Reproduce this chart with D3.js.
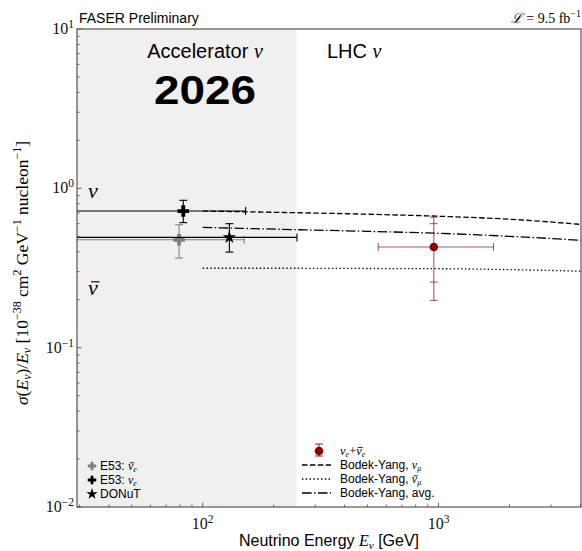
<!DOCTYPE html>
<html>
<head>
<meta charset="utf-8">
<script src="https://cdn.jsdelivr.net/npm/d3@7"></script>
<style>
  html, body { margin: 0; padding: 0; background: #fff; }
  svg { display: block; }
  .serif { font-family: "Liberation Serif", "DejaVu Serif", serif; }
  .sans { font-family: "Liberation Sans", "DejaVu Sans", sans-serif; }
</style>
</head>
<body>
<svg id="chart" width="582" height="551"></svg>
<script>
// Axis extents and tick labels
const xDomain = [29.3, 4020];
const yDomain = [0.01, 10];
const xTickValues = [100, 1000];
const xTickExps = ["2", "3"];
const yTickValues = [0.01, 0.1, 1, 10];
const yTickExps = ["\u22122", "\u22121", "0", "1"];
const acceleratorBoundary = 250;

// Bodek-Yang predictions (energy in GeV, sigma/E)
const byEnergy = [100, 250, 500, 1000, 2000, 4020];
const byNu = [0.720, 0.703, 0.688, 0.668, 0.640, 0.594];
const byNuBar = [0.315, 0.315, 0.314, 0.313, 0.309, 0.302];
const byAvg = [0.569, 0.550, 0.537, 0.522, 0.500, 0.472];

// Accelerator measurements: [E, Elow, Ehigh, value, low, high]
const e53NuBar = [79.4, 20, 150, 0.476, 0.365, 0.591];
const e53Nu = [82.7, 20, 152, 0.720, 0.609, 0.841];
const donut = [129.7, 20, 251, 0.492, 0.398, 0.600];

// FASER electron neutrino measurement
const faserE = [955, 555, 1711];
const faserValue = 0.428;
const faserStat = [0.258, 0.600];
const faserTotal = [0.198, 0.660];

const svg = d3.select("#chart");
const L = 77, R = 581, T = 29, B = 507;

const x = d3.scaleLog().domain(xDomain).range([L, R]);
const y = d3.scaleLog().domain(yDomain).range([B, T]);

svg.append("defs").append("clipPath").attr("id", "plotclip")
  .append("rect").attr("x", L).attr("y", T).attr("width", R - L).attr("height", B - T);

// Shaded accelerator region
svg.append("rect")
  .attr("x", L).attr("y", T)
  .attr("width", x(acceleratorBoundary) - L).attr("height", B - T)
  .attr("fill", "#f0f0f0");

const plot = svg.append("g").attr("clip-path", "url(#plotclip)");

// Theory curves
const line = d3.line().x(d => x(d[0])).y(d => y(d[1])).curve(d3.curveMonotoneX);
const curves = [
  { vals: byNu, dash: "5.5,2.4" },
  { vals: byNuBar, dash: "1.4,2.4" },
  { vals: byAvg, dash: "9.6,2.4,1.5,2.4" }
];
curves.forEach(c => {
  plot.append("path")
    .attr("d", line(byEnergy.map((e, i) => [e, c.vals[i]])))
    .attr("fill", "none").attr("stroke", "#000")
    .attr("stroke-width", 1.3).attr("stroke-dasharray", c.dash);
});

// Error bar helper
function errbar(g, d, color, cap) {
  const [e, el, eh, v, vl, vh] = d;
  g.append("line").attr("x1", x(el)).attr("x2", x(eh)).attr("y1", y(v)).attr("y2", y(v))
    .attr("stroke", color).attr("stroke-width", 1.1);
  g.append("line").attr("x1", x(e)).attr("x2", x(e)).attr("y1", y(vl)).attr("y2", y(vh))
    .attr("stroke", color).attr("stroke-width", 1.1);
  [vl, vh].forEach(yy => g.append("line")
    .attr("x1", x(e) - cap).attr("x2", x(e) + cap).attr("y1", y(yy)).attr("y2", y(yy))
    .attr("stroke", color).attr("stroke-width", 1.1));
  [el, eh].forEach(xx => g.append("line")
    .attr("x1", x(xx)).attr("x2", x(xx)).attr("y1", y(v) - cap).attr("y2", y(v) + cap)
    .attr("stroke", color).attr("stroke-width", 1.1));
}

const plusSym = d3.symbol().type(d3.symbolCross).size(75);
const starSym = d3.symbol().type(d3.symbolStar).size(55);

errbar(plot, e53NuBar, "#808080", 4);
plot.append("path").attr("d", plusSym()).attr("fill", "#808080")
  .attr("transform", `translate(${x(e53NuBar[0])},${y(e53NuBar[3])})`);
errbar(plot, e53Nu, "#000", 4);
plot.append("path").attr("d", plusSym()).attr("fill", "#000")
  .attr("transform", `translate(${x(e53Nu[0])},${y(e53Nu[3])})`);
errbar(plot, donut, "#000", 4);
plot.append("path").attr("d", starSym()).attr("fill", "#000")
  .attr("transform", `translate(${x(donut[0])},${y(donut[3])})`);

// FASER point: total and statistical uncertainties
const fRed = "#8b0000";
const fg = plot.append("g");
errbar(fg, [faserE[0], faserE[1], faserE[2], faserValue, faserTotal[0], faserTotal[1]], "rgba(139,0,0,0.65)", 4);
[faserStat[0], faserStat[1]].forEach(yy => fg.append("line")
  .attr("x1", x(faserE[0]) - 4).attr("x2", x(faserE[0]) + 4).attr("y1", y(yy)).attr("y2", y(yy))
  .attr("stroke", "rgba(139,0,0,0.65)").attr("stroke-width", 1.1));
fg.append("circle").attr("cx", x(faserE[0])).attr("cy", y(faserValue)).attr("r", 4.3).attr("fill", fRed);

// Axes frame
svg.append("rect").attr("x", L).attr("y", T).attr("width", R - L).attr("height", B - T)
  .attr("fill", "none").attr("stroke", "#555").attr("stroke-width", 1.2);

// Ticks (pointing inward)
const xMinor = [];
for (let dec = 10; dec <= 1000; dec *= 10)
  for (let k = 2; k <= 9; k++) { const v = dec * k; if (v > xDomain[0] && v < xDomain[1]) xMinor.push(v); }
const yMinor = [];
for (let dec = 0.01; dec < 10; dec *= 10)
  for (let k = 2; k <= 9; k++) yMinor.push(dec * k);

const ax = svg.append("g").attr("stroke", "#555").attr("stroke-width", 0.9);
xMinor.forEach(v => ax.append("line").attr("x1", x(v)).attr("x2", x(v)).attr("y1", B).attr("y2", B - 2.5));
xTickValues.forEach(v => ax.append("line").attr("x1", x(v)).attr("x2", x(v)).attr("y1", B).attr("y2", B - 4.5));
yMinor.forEach(v => ax.append("line").attr("x1", L).attr("x2", L + 2.5).attr("y1", y(v)).attr("y2", y(v)));
yTickValues.forEach(v => ax.append("line").attr("x1", L).attr("x2", L + 4.5).attr("y1", y(v)).attr("y2", y(v)));

// Tick labels
xTickValues.forEach((v, i) => {
  const t = svg.append("text").attr("class", "serif").attr("x", x(v)).attr("y", B + 22)
    .attr("text-anchor", "middle").attr("font-size", 16).attr("fill", "#111");
  t.append("tspan").text("10");
  t.append("tspan").attr("dy", -6).attr("font-size", 11.5).text(xTickExps[i]);
});
yTickValues.forEach((v, i) => {
  const t = svg.append("text").attr("class", "serif").attr("x", L - 3).attr("y", y(v) + 5)
    .attr("text-anchor", "end").attr("font-size", 16).attr("fill", "#111");
  t.append("tspan").text("10");
  t.append("tspan").attr("dy", -6).attr("font-size", 11.5).text(yTickExps[i]);
});

// Axis titles
const xt = svg.append("text").attr("class", "sans").attr("x", (L + R) / 2).attr("y", 546)
  .attr("text-anchor", "middle").attr("font-size", 16).attr("fill", "#000");
xt.append("tspan").text("Neutrino Energy ");
xt.append("tspan").attr("class", "serif").attr("font-style", "italic").text("E");
xt.append("tspan").attr("class", "serif").attr("font-style", "italic").attr("font-size", 11).attr("dy", 3).text("\u03bd");
xt.append("tspan").attr("dy", -3).text(" [GeV]");

const yt = svg.append("text").attr("class", "serif")
  .attr("transform", `translate(28,${(T + B) / 2 + 5}) rotate(-90)`)
  .attr("text-anchor", "middle").attr("font-size", 17.5).attr("fill", "#000");
yt.append("tspan").attr("font-style", "italic").text("\u03c3");
yt.append("tspan").text("(");
yt.append("tspan").attr("font-style", "italic").text("E");
yt.append("tspan").attr("font-style", "italic").attr("font-size", 12).attr("dy", 3).text("\u03bd");
yt.append("tspan").attr("dy", -3).text(")/");
yt.append("tspan").attr("font-style", "italic").text("E");
yt.append("tspan").attr("font-style", "italic").attr("font-size", 12).attr("dy", 3).text("\u03bd");
yt.append("tspan").attr("dy", -3).text(" [10");
yt.append("tspan").attr("font-size", 12).attr("dy", -7).text("\u221238");
yt.append("tspan").attr("dy", 7).text(" cm");
yt.append("tspan").attr("font-size", 12).attr("dy", -7).text("2");
yt.append("tspan").attr("dy", 7).text(" GeV");
yt.append("tspan").attr("font-size", 12).attr("dy", -7).text("\u22121");
yt.append("tspan").attr("dy", 7).text(" nucleon");
yt.append("tspan").attr("font-size", 12).attr("dy", -7).text("\u22121");
yt.append("tspan").attr("dy", 7).text("]");

// Header texts
svg.append("text").attr("class", "sans").attr("x", L + 2).attr("y", 23)
  .attr("font-size", 14).attr("fill", "#000").text("FASER Preliminary");
const lum = svg.append("text").attr("class", "serif").attr("x", R).attr("y", 23)
  .attr("text-anchor", "end").attr("font-size", 14).attr("fill", "#000");
lum.append("tspan").attr("font-style", "italic").text("\u2112");
lum.append("tspan").text(" = 9.5 fb");
lum.append("tspan").attr("font-size", 10).attr("dy", -6).text("\u22121");

// Region labels
const acc = svg.append("text").attr("class", "sans").attr("x", 205).attr("y", 58)
  .attr("text-anchor", "middle").attr("font-size", 20).attr("fill", "#000");
acc.append("tspan").text("Accelerator ");
acc.append("tspan").attr("class", "serif").attr("font-style", "italic").text("\u03bd");
svg.append("text").attr("class", "sans")
  .attr("transform", "translate(205,104) scale(1.12,1)")
  .attr("text-anchor", "middle").attr("font-size", 41).attr("font-weight", "bold")
  .attr("fill", "#000").text("2026");
const lhc = svg.append("text").attr("class", "sans").attr("x", 327).attr("y", 58)
  .attr("font-size", 20).attr("fill", "#000");
lhc.append("tspan").text("LHC ");
lhc.append("tspan").attr("class", "serif").attr("font-style", "italic").text("\u03bd");

svg.append("text").attr("class", "serif").attr("x", 88).attr("y", 198)
  .attr("font-size", 22).attr("font-style", "italic").text("\u03bd");
svg.append("text").attr("class", "serif").attr("x", 88).attr("y", 295)
  .attr("font-size", 22).attr("font-style", "italic")
  .append("tspan").classed("nubar", true).text("\u03bd");

// Left legend (accelerator experiments)
const leftLegend = [
  { label: "E53: ", bar: true, color: "#808080", type: d3.symbolCross },
  { label: "E53: ", bar: false, color: "#000", type: d3.symbolCross },
  { label: "DONuT", bar: null, color: "#000", type: d3.symbolStar }
];
leftLegend.forEach((d, i) => {
  const yy = 470 + i * 14;
  svg.append("path").attr("d", d3.symbol().type(d.type).size(40)())
    .attr("fill", d.color).attr("transform", `translate(92,${yy - 4})`);
  const t = svg.append("text").attr("class", "sans").attr("x", 100).attr("y", yy)
    .attr("font-size", 12).attr("fill", "#000");
  t.append("tspan").text(d.label);
  if (d.bar !== null) {
    t.append("tspan").attr("class", "serif").attr("font-style", "italic")
      .classed("nubar", d.bar).text("\u03bd");
    t.append("tspan").attr("class", "serif").attr("font-style", "italic").attr("font-size", 8).attr("dy", 2).text("e");
  }
});

// Right legend (FASER and predictions)
const rl = svg.append("g");
rl.append("line").attr("x1", 319).attr("x2", 319).attr("y1", 444).attr("y2", 456)
  .attr("stroke", "rgba(139,0,0,0.8)").attr("stroke-width", 1.1);
[444, 456].forEach(yy => rl.append("line").attr("x1", 315).attr("x2", 323).attr("y1", yy).attr("y2", yy)
  .attr("stroke", "rgba(139,0,0,0.8)").attr("stroke-width", 1.1));
rl.append("circle").attr("cx", 319).attr("cy", 451).attr("r", 4.3).attr("fill", fRed);
const ft = rl.append("text").attr("class", "serif").attr("x", 340).attr("y", 455)
  .attr("font-size", 12.5).attr("font-style", "italic");
ft.append("tspan").text("\u03bd");
ft.append("tspan").attr("font-size", 8).attr("dy", 2).text("e");
ft.append("tspan").attr("dy", -2).attr("font-style", "normal").text("+");
ft.append("tspan").classed("nubar", true).text("\u03bd");
ft.append("tspan").attr("font-size", 8).attr("dy", 2).text("e");

const rlItems = [
  { dash: "5.5,2.4", nu: true, bar: false },
  { dash: "1.4,2.4", nu: true, bar: true },
  { dash: "9.6,2.4,1.5,2.4", nu: false, bar: false }
];
rlItems.forEach((d, i) => {
  const yy = 469 + i * 14;
  rl.append("line").attr("x1", 302).attr("x2", 331).attr("y1", yy - 4).attr("y2", yy - 4)
    .attr("stroke", "#000").attr("stroke-width", 1.3).attr("stroke-dasharray", d.dash);
  const t = rl.append("text").attr("class", "sans").attr("x", 340).attr("y", yy)
    .attr("font-size", 12).attr("fill", "#000");
  if (d.nu) {
    t.append("tspan").text("Bodek-Yang, ");
    t.append("tspan").attr("class", "serif").attr("font-style", "italic").classed("nubar", d.bar).text("\u03bd");
    t.append("tspan").attr("class", "serif").attr("font-style", "italic").attr("font-size", 8).attr("dy", 2).text("\u03bc");
  } else {
    t.append("tspan").text("Bodek-Yang, avg.");
  }
});

// Draw the bar over every antineutrino symbol
svg.selectAll("text").each(function () {
  const textEl = this;
  let idx = 0;
  textEl.childNodes.forEach(node => {
    const len = node.textContent.length;
    if (node.nodeType === 1 && node.classList.contains("nubar")) {
      const fs = parseFloat(getComputedStyle(node).fontSize);
      const s = textEl.getStartPositionOfChar(idx);
      const e = textEl.getEndPositionOfChar(idx);
      const w = e.x - s.x;
      d3.select(textEl.parentNode).append("line")
        .attr("x1", s.x + 0.18 * w + 0.06 * fs).attr("x2", e.x + 0.08 * fs)
        .attr("y1", s.y - 0.6 * fs).attr("y2", s.y - 0.6 * fs)
        .attr("stroke", "#000").attr("stroke-width", Math.max(0.8, fs * 0.05));
    }
    idx += len;
  });
});
</script>
</body>
</html>
